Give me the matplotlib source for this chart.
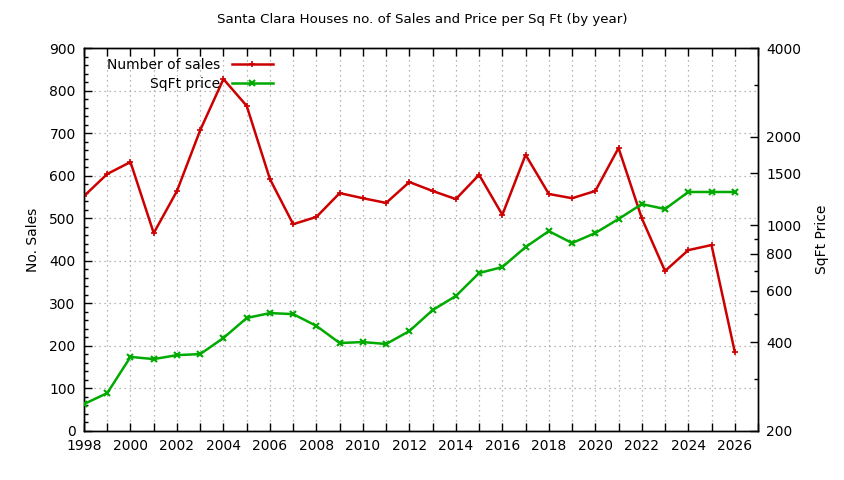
import matplotlib
matplotlib.use("Agg")
import matplotlib.pyplot as plt
from matplotlib.ticker import FixedLocator, MultipleLocator, FuncFormatter, NullFormatter

years = list(range(1998, 2027))
sales = [552, 604, 632, 465, 564, 707, 827, 764, 592, 486, 503, 559, 547, 536,
         585, 564, 545, 602, 508, 649, 557, 547, 564, 665, 500, 376, 425, 437, 186]
sqft_price = [247, 269, 357, 351, 362, 365, 414, 484, 503, 499, 455, 398, 401, 395,
              437, 515, 575, 688, 721, 843, 955, 870, 941, 1050, 1180, 1135, 1297, 1297, 1297]
y2_major = [200, 400, 600, 800, 1000, 1500, 2000, 4000]
y2_minor = [300, 500, 700, 900, 3000]

plt.rcParams['font.family'] = ['DejaVu Sans']
fig = plt.figure(figsize=(8.44, 4.8), dpi=100)
ax = fig.add_axes([84/844, 49/480, (758-84)/844, (431-48)/480])
ax2 = ax.twinx()

red = '#cc0000'
green = '#00aa00'

l1, = ax.plot(years, sales, color=red, lw=1.8, marker='+', ms=4, mew=1.2, label='Number of sales', zorder=3)
l2, = ax2.plot(years, sqft_price, color=green, lw=1.8, marker='x', ms=4, mew=1.5, label='SqFt price', zorder=3)

ax.set_xlim(1998, 2027)
ax.set_ylim(0, 900)
ax.yaxis.set_major_locator(MultipleLocator(100))
ax.yaxis.set_minor_locator(MultipleLocator(20))
ax.xaxis.set_major_locator(MultipleLocator(1))
ax.xaxis.set_major_formatter(FuncFormatter(lambda v, p: f"{int(v)}" if int(v) % 2 == 0 and v <= 2026 else ""))
ax.tick_params(axis='x', direction='in', length=6, width=1, top=True, labelsize=10, pad=6)
ax.tick_params(axis='y', which='major', direction='in', length=6, width=1, labelsize=10, pad=6)
ax.tick_params(axis='y', which='minor', direction='in', length=3, width=1)
ax.grid(True, axis='x', which='major', color='#a0a0a0', linestyle=(0, (1, 3)), lw=0.9)
ax.grid(True, axis='y', which='major', color='#a0a0a0', linestyle=(0, (1, 3)), lw=0.9)

ax2.set_yscale('log')
ax2.set_ylim(200, 4000)
ax2.yaxis.set_major_locator(FixedLocator(y2_major))
ax2.yaxis.set_major_formatter(FuncFormatter(lambda v, p: f"{int(v)}"))
ax2.yaxis.set_minor_locator(FixedLocator(y2_minor))
ax2.yaxis.set_minor_formatter(NullFormatter())
ax2.tick_params(axis='y', which='major', direction='in', length=6, width=1, labelsize=10, pad=6)
ax2.tick_params(axis='y', which='minor', direction='in', length=3, width=1)

for a in (ax, ax2):
    for s in a.spines.values():
        s.set_linewidth(1.0)

ax.set_ylabel('No. Sales', fontsize=10, labelpad=7)
ax2.set_ylabel('SqFt Price', fontsize=10, labelpad=10)
fig.text(422/844, 1 - 19/480, 'Santa Clara Houses no. of Sales and Price per Sq Ft (by year)',
         ha='center', va='center', fontsize=9.6)

leg = ax.legend(handles=[l1, l2], loc='upper left', bbox_to_anchor=(0.02, 1.0),
                frameon=False, fontsize=10, markerfirst=False, handlelength=3,
                labelspacing=0.35, borderaxespad=0.3)
for t in leg.get_texts():
    t.set_ha('right')
leg._legend_box.align = 'right'

fig.savefig('out.png', dpi=100)
